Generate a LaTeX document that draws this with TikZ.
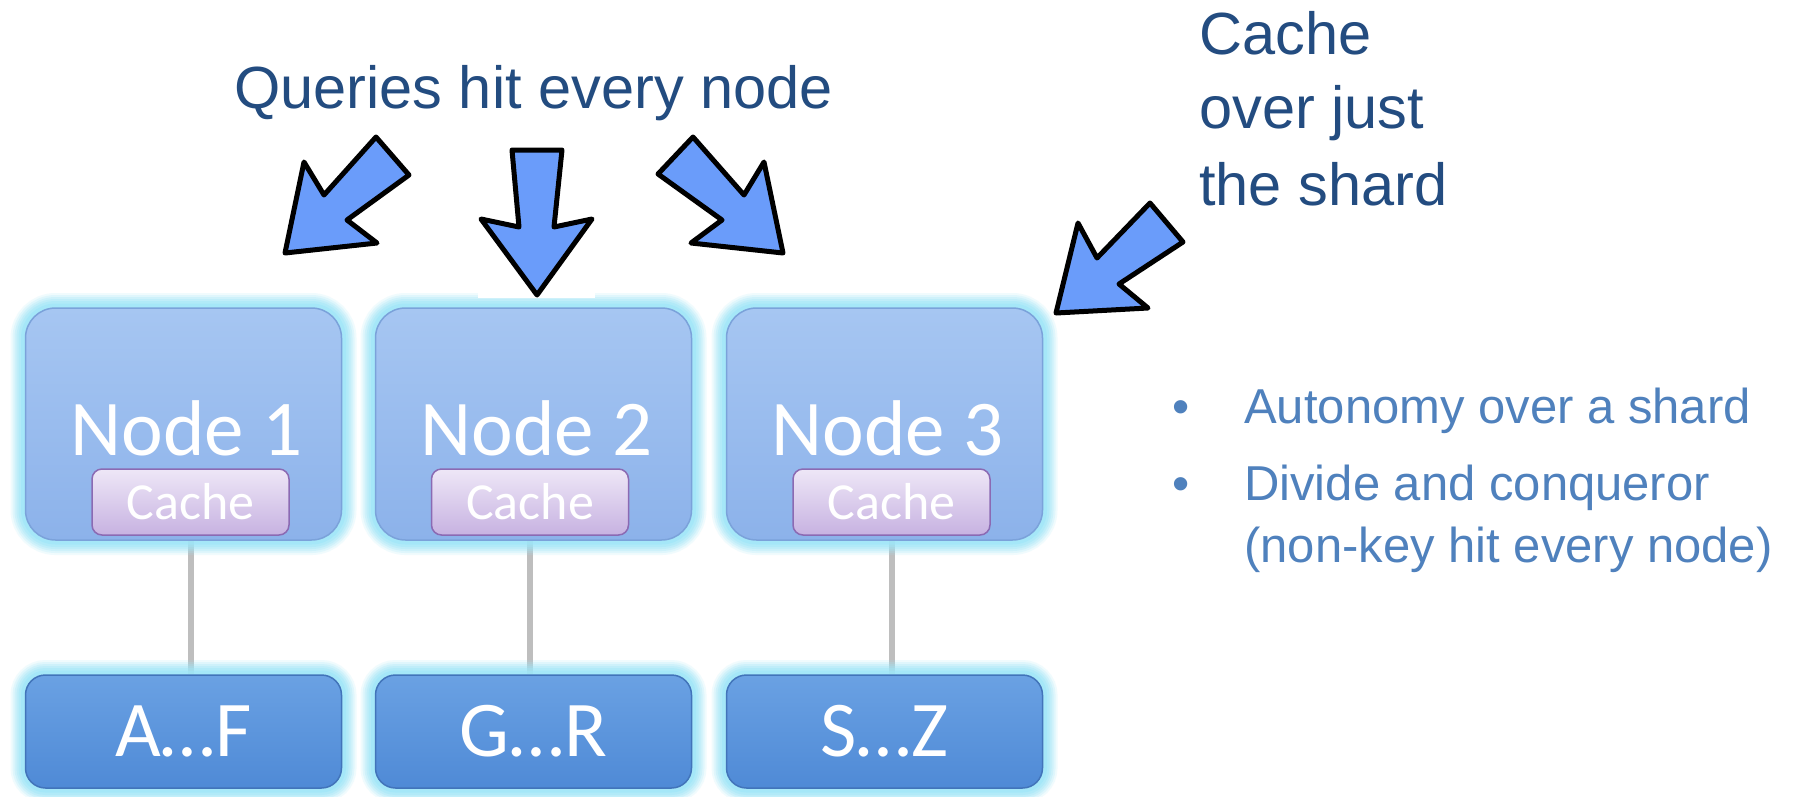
\documentclass[tikz,border=0pt]{standalone}
\usepackage{fontspec}
\setmainfont{Liberation Sans}
\newfontfamily\calibri{Carlito}
\usetikzlibrary{calc,backgrounds}
\definecolor{glowc}{HTML}{9EE6F8}
\definecolor{nodetop}{HTML}{A6C6F2}
\definecolor{nodebot}{HTML}{8CB2EA}
\definecolor{nodeedge}{HTML}{7BA2DA}
\definecolor{shardtop}{HTML}{6AA1E3}
\definecolor{shardbot}{HTML}{4F8AD6}
\definecolor{shardedge}{HTML}{4274BA}
\definecolor{cachetop}{HTML}{EEE7F7}
\definecolor{cachebot}{HTML}{C7B2E1}
\definecolor{cacheedge}{HTML}{8B6AB3}
\definecolor{arrowblue}{HTML}{6A9CFA}
\definecolor{titleblue}{HTML}{234C80}
\definecolor{bulletblue}{HTML}{4F81BD}
\definecolor{linkgray}{HTML}{BEBEBE}
\tikzstyle{glow}=[preaction={draw=glowc, line width=30pt, opacity=0.15}, preaction={draw=glowc, line width=26pt, opacity=0.2}, preaction={draw=glowc, line width=22pt, opacity=0.25}, preaction={draw=glowc, line width=18pt, opacity=0.3}, preaction={draw=glowc, line width=14pt, opacity=0.4}, preaction={draw=glowc, line width=9pt, opacity=0.6}]
\tikzstyle{server}=[rectangle, rounded corners=30pt, minimum width=316pt, minimum height=232pt, top color=nodetop, bottom color=nodebot, draw=nodeedge, line width=1.5pt, glow]
\tikzstyle{nodelabel}=[text=white, font=\calibri\fontsize{79}{79}\selectfont, inner sep=0pt, anchor=base]
\tikzstyle{cachebox}=[rectangle, rounded corners=10pt, minimum width=197pt, minimum height=66pt, top color=cachetop, bottom color=cachebot, draw=cacheedge, line width=1.5pt, text=white, font=\calibri\fontsize{52}{52}\selectfont, inner sep=0pt]
\tikzstyle{shard}=[rectangle, rounded corners=20pt, minimum width=316pt, minimum height=113pt, top color=shardtop, bottom color=shardbot, draw=shardedge, line width=1.5pt, glow, text=white, font=\calibri\fontsize{79}{79}\selectfont, inner sep=0pt]
\tikzstyle{link}=[draw=linkgray, line width=6pt]
\tikzstyle{qarrow}=[fill=arrowblue, draw=black, line width=5pt, line join=round]
\tikzstyle{headline}=[text=titleblue, font=\fontsize{59.5}{75}\selectfont, inner sep=0pt, anchor=base west]
\tikzstyle{point}=[text=bulletblue, font=\fontsize{49}{62}\selectfont, inner sep=0pt, anchor=base west]

\begin{document}
\begin{tikzpicture}[x=1pt, y=-1pt]
	\useasboundingbox (0,0) rectangle (1794,796);

	% nodes with their caches
	\node[server](n1) at (183.5,424){};
	\node[server](n2) at (533.5,424){};
	\node[server](n3) at (884.5,424){};
	\node[nodelabel] at ($(n1.center)+(3,31)$) {Node 1};
	\node[nodelabel] at ($(n2.center)+(3,31)$) {Node 2};
	\node[nodelabel] at ($(n3.center)+(3,31)$) {Node 3};
	\node[cachebox](c1) at (190.5,502){Cache};
	\node[cachebox](c2) at (530,502){Cache};
	\node[cachebox](c3) at (891.5,502){Cache};

	% shards
	\node[shard](s1) at (183.5,731.5){A…F};
	\node[shard](s2) at (533.5,731.5){G…R};
	\node[shard](s3) at (884.5,731.5){S…Z};

	\begin{scope}[on background layer]
		\fill[white] (0,0) rectangle (1794,796);
		\draw[link] (c1.south) -- (c1.south |- s1.north);
		\draw[link] (c2.south) -- (c2.south |- s2.north);
		\draw[link] (c3.south) -- (c3.south |- s3.north);
	\end{scope}

	% query arrows
	\fill[white] (478,280) rectangle (595,298);
	\draw[qarrow] (376,137) -- (409,175) -- (347,220) -- (377,243) -- (285,253) -- (304,162) -- (324,195) -- cycle;
	\draw[qarrow] (512,150) -- (562,150) -- (554,227) -- (592,219) -- (537,295) -- (481,219) -- (519,227) -- cycle;
	\draw[qarrow] (693,137) -- (658,174) -- (722,220) -- (691,243) -- (783,253) -- (764,162) -- (744,195) -- cycle;
	\draw[qarrow] (1150,203) -- (1183,242) -- (1119,284) -- (1148,308) -- (1056,313) -- (1078,223) -- (1097,258) -- cycle;

	\node[headline](queries) at (234,108){Queries hit every node};
	\node[headline](cache1) at (1199,54){Cache};
	\node[headline](cache2) at (1199,128){over just};
	\node[headline](cache3) at (1199,205){the shard};

	% bullet points
	\node[point, anchor=base](dot1) at (1181,423){•};
	\node[point](p1) at (1244,423){Autonomy over a shard};
	\node[point, anchor=base](dot2) at (1181,500){•};
	\node[point](p2) at (1244,500){Divide and conqueror};
	\node[point](p3) at (1244,562){(non-key hit every node)};

\end{tikzpicture}
\end{document}
